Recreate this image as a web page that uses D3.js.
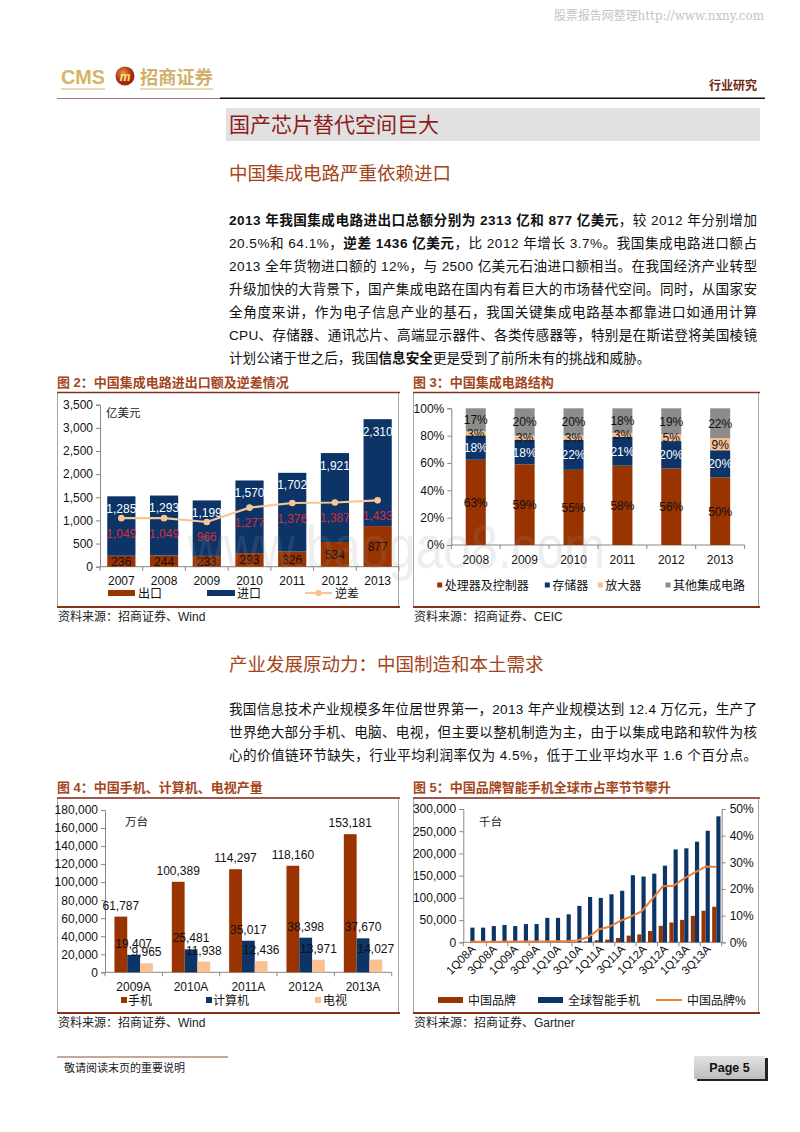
<!DOCTYPE html>
<html><head><meta charset="utf-8">
<script src="https://cdn.jsdelivr.net/npm/d3@7"></script>
<style>
body{margin:0;background:#fff;}
svg{display:block;font-family:"Liberation Sans","Noto Sans CJK SC",Arial,sans-serif;}
</style></head><body>
<svg id="page" width="800" height="1132"></svg>
<script>
// ---------- DATA ----------
const years2 = ["2007","2008","2009","2010","2011","2012","2013"];
const exports2 = [236,244,233,293,326,534,877];
const imports2 = [1285,1293,1199,1570,1702,1921,2310];
const deficit2 = [1049,1049,966,1277,1376,1387,1433];
const ticks2 = [0,500,1000,1500,2000,2500,3000,3500];
const legend2 = ["出口","进口","逆差"];

const years3 = ["2008","2009","2010","2011","2012","2013"];
const series3 = ["处理器及控制器","存储器","放大器","其他集成电路"];
const proc3 = [63,59,55,58,56,50];
const mem3 = [18,18,22,21,20,20];
const amp3 = [3,3,3,3,5,9];
const other3 = [17,20,20,18,19,22];
const ticks3 = [0,0.2,0.4,0.6,0.8,1.0];

const years4 = ["2009A","2010A","2011A","2012A","2013A"];
const series4 = ["手机","计算机","电视"];
const phones4 = [61787,100389,114297,118160,153181];
const pcs4 = [19407,25481,35017,38398,37670];
const tvs4 = [9965,11938,12436,13971,14027];
const ticks4 = [0,20000,40000,60000,80000,100000,120000,140000,160000,180000];

const quarters5 = ["1Q08A","2Q08A","3Q08A","4Q08A","1Q09A","2Q09A","3Q09A","4Q09A",
  "1Q10A","2Q10A","3Q10A","4Q10A","1Q11A","2Q11A","3Q11A","4Q11A",
  "1Q12A","2Q12A","3Q12A","4Q12A","1Q13A","2Q13A","3Q13A","4Q13A"];
const global5 = [33000,33000,36500,39000,36500,41000,41000,55000,55000,63000,82000,102000,
  100000,108000,116000,151000,148000,154500,172500,209000,211500,226500,251000,283500];
const china5 = [100,100,110,120,130,150,160,200,250,300,650,1900,
  4500,6000,9700,15000,17800,25500,37000,44500,50500,59500,71000,80000];
const share5 = [0.002,0.002,0.002,0.002,0.003,0.003,0.003,0.003,0.004,0.004,0.007,0.019,
  0.048,0.058,0.080,0.096,0.116,0.162,0.210,0.212,0.240,0.262,0.284,0.282];
const ticks5L = [0,50000,100000,150000,200000,250000,300000];
const ticks5R = [0,0.1,0.2,0.3,0.4,0.5];
const legend5 = ["中国品牌","全球智能手机","中国品牌%"];

// ---------- STYLE ----------
const C = {brown:"#993300", navy:"#0c3467", peach:"#fac090", gray:"#8c8c8c",
  line2:"#f8c597", red:"#d42e3c", orange:"#f07f36", axis:"#868686",
  title:"#a4461c", dark:"#8a2f1a"};

const svg = d3.select("#page");
svg.append("rect").attr("width",800).attr("height",1132).attr("fill","#fff");

// ---------- HEADER ----------
svg.append("text").attr("x",764).attr("y",20).attr("text-anchor","end")
  .attr("font-size",12).attr("fill","#c4c4c4").attr("font-family","'DejaVu Serif','Noto Sans CJK SC',serif")
  .attr("textLength",210).attr("lengthAdjust","spacingAndGlyphs")
  .text("股票报告网整理http://www.nxny.com");

svg.append("text").attr("x",61).attr("y",84).attr("font-size",21).attr("font-weight","bold")
  .attr("fill","#d6b468").attr("textLength",44).attr("lengthAdjust","spacingAndGlyphs").text("CMS");
const grad = svg.append("defs").append("radialGradient").attr("id","lg").attr("cx","40%").attr("cy","35%");
grad.append("stop").attr("offset","0%").attr("stop-color","#f0903a");
grad.append("stop").attr("offset","100%").attr("stop-color","#a0260c");
svg.append("circle").attr("cx",125).attr("cy",76).attr("r",9.5).attr("fill","url(#lg)");
svg.append("text").attr("x",125).attr("y",80.5).attr("text-anchor","middle").attr("font-size",12)
  .attr("font-weight","bold").attr("font-style","italic").attr("fill","#ffe08a").text("m");
svg.append("text").attr("x",140).attr("y",84).attr("font-size",18).attr("font-weight","bold")
  .attr("fill","#d2b06a").attr("textLength",73).attr("lengthAdjust","spacingAndGlyphs").text("招商证券");
svg.append("line").attr("x1",61).attr("x2",105).attr("y1",89).attr("y2",89).attr("stroke","#e2cc98").attr("stroke-width",1.5);
svg.append("line").attr("x1",140).attr("x2",213).attr("y1",89).attr("y2",89).attr("stroke","#e2cc98").attr("stroke-width",1.5);
svg.append("text").attr("x",757).attr("y",90).attr("text-anchor","end").attr("font-size",12)
  .attr("font-weight","bold").attr("fill","#6e2810").text("行业研究");
svg.append("line").attr("x1",57).attr("x2",221).attr("y1",98.5).attr("y2",98.5).attr("stroke","#a87868").attr("stroke-width",1);
svg.append("line").attr("x1",220).attr("x2",765).attr("y1",98.3).attr("y2",98.3).attr("stroke","#111").attr("stroke-width",1.6);

svg.append("rect").attr("x",226).attr("y",108).attr("width",534).attr("height",33).attr("fill","#e1e1e1");
svg.append("text").attr("x",229).attr("y",132).attr("font-size",21).attr("fill","#8e1a1a").text("国产芯片替代空间巨大");

svg.append("text").attr("x",229).attr("y",180).attr("font-size",18.5).attr("fill","#a3441a").text("中国集成电路严重依赖进口");

function para(lines, y0, justifyAll) {
  lines.forEach((segs,i)=>{
    const t = svg.append("text").attr("x",229).attr("y",y0+i*23).attr("font-size",13.6).attr("fill","#111");
    if (justifyAll || i < lines.length-1) t.attr("textLength",528).attr("lengthAdjust","spacing");
    segs.forEach(s=>{ t.append("tspan").attr("font-weight",s[1]?"bold":"normal").text(s[0]); });
  });
}
para([
 [["2013 年我国集成电路进出口总额分别为 2313 亿和 877 亿美元",1],["，较 2012 年分别增加",0]],
 [["20.5%和 64.1%，",0],["逆差 1436 亿美元",1],["，比 2012 年增长 3.7%。我国集成电路进口额占",0]],
 [["2013 全年货物进口额的 12%，与 2500 亿美元石油进口额相当。在我国经济产业转型",0]],
 [["升级加快的大背景下，国产集成电路在国内有着巨大的市场替代空间。同时，从国家安",0]],
 [["全角度来讲，作为电子信息产业的基石，我国关键集成电路基本都靠进口如通用计算",0]],
 [["CPU、存储器、通讯芯片、高端显示器件、各类传感器等，特别是在斯诺登将美国棱镜",0]],
 [["计划公诸于世之后，我国",0],["信息安全",1],["更是受到了前所未有的挑战和威胁。",0]]
], 225, false);

svg.append("text").attr("x",229).attr("y",671).attr("font-size",18.5).attr("fill","#a3441a").text("产业发展原动力：中国制造和本土需求");
para([
 [["我国信息技术产业规模多年位居世界第一，2013 年产业规模达到 12.4 万亿元，生产了",0]],
 [["世界绝大部分手机、电脑、电视，但主要以整机制造为主，由于以集成电路和软件为核",0]],
 [["心的价值链环节缺失，行业平均利润率仅为 4.5%，低于工业平均水平 1.6 个百分点。",0]]
], 714, true);

// ---------- FRAMES ----------
function frame(x0,x1,yTop,yBot,title,source){
  svg.append("text").attr("x",x0).attr("y",yTop-6).attr("font-size",13).attr("font-weight","bold")
    .attr("fill",C.title).text(title);
  svg.append("rect").attr("x",x0+0.5).attr("y",yTop).attr("width",x1-x0).attr("height",yBot-yTop)
    .attr("fill","none").attr("stroke","#a6a6a6").attr("stroke-width",1);
  svg.append("line").attr("x1",x0).attr("x2",x1+2).attr("y1",yTop).attr("y2",yTop).attr("stroke",C.dark).attr("stroke-width",1.5);
  svg.append("line").attr("x1",x0).attr("x2",x1+2).attr("y1",yBot).attr("y2",yBot).attr("stroke",C.dark).attr("stroke-width",2);
  svg.append("text").attr("x",x0+1).attr("y",yBot+14).attr("font-size",12).attr("fill","#222").text(source);
}
frame(57,398,392.5,607,"图 2：中国集成电路进出口额及逆差情况","资料来源：招商证券、Wind");
frame(413,758,392.5,607,"图 3：中国集成电路结构","资料来源：招商证券、CEIC");
frame(57,398,798,1013,"图 4：中国手机、计算机、电视产量","资料来源：招商证券、Wind");
frame(413,758,798,1013,"图 5：中国品牌智能手机全球市占率节节攀升","资料来源：招商证券、Gartner");

function styleAxis(g){
  g.selectAll(".domain").attr("stroke",C.axis);
  g.selectAll(".tick line").attr("stroke",C.axis);
  g.selectAll(".tick text").attr("fill","#111").attr("font-size",12)
    .attr("font-family","'Liberation Sans',Arial,sans-serif");
}
function catTicks(g,x0,step,n,y,len){
  for(let i=0;i<=n;i++) g.append("line").attr("x1",x0+i*step).attr("x2",x0+i*step)
    .attr("y1",y).attr("y2",y+len).attr("stroke",C.axis);
}

// ---------- CHART 2 ----------
{
  const g = svg.append("g");
  const x = d3.scaleBand().domain(years2).range([100,399]).paddingInner(0.34).paddingOuter(0.17);
  const y = d3.scaleLinear().domain([0,3500]).range([566.7,404.7]);
  const ax = g.append("g").attr("transform","translate(100,0)")
    .call(d3.axisLeft(y).tickValues(ticks2).tickFormat(d3.format(",")).tickSize(4).tickPadding(3));
  styleAxis(ax);
  g.append("line").attr("x1",100).attr("x2",399).attr("y1",y(0)).attr("y2",y(0)).attr("stroke",C.axis);
  catTicks(g,100,x.step(),years2.length,y(0),4);
  years2.forEach((yr,i)=>{
    g.append("rect").attr("x",x(yr)).attr("width",x.bandwidth()).attr("y",y(exports2[i]))
      .attr("height",y(0)-y(exports2[i])).attr("fill",C.brown);
    g.append("rect").attr("x",x(yr)).attr("width",x.bandwidth()).attr("y",y(exports2[i]+imports2[i]))
      .attr("height",y(exports2[i])-y(exports2[i]+imports2[i])).attr("fill",C.navy);
    g.append("text").attr("x",x(yr)+x.bandwidth()/2).attr("y",y(exports2[i]/2)+4.5).attr("text-anchor","middle")
      .attr("font-size",12).attr("fill","#111").text(d3.format(",")(exports2[i]));
    g.append("text").attr("x",x(yr)+x.bandwidth()/2).attr("y",y(exports2[i]+imports2[i])+16.5).attr("text-anchor","middle")
      .attr("font-size",12).attr("fill","#fff").text(d3.format(",")(imports2[i]));
    g.append("text").attr("x",x(yr)+x.bandwidth()/2).attr("y",584.5).attr("text-anchor","middle")
      .attr("font-size",12).attr("fill","#111").text(yr);
  });
  const line = d3.line().x((d,i)=>x(years2[i])+x.bandwidth()/2).y(d=>y(d));
  g.append("path").attr("d",line(deficit2)).attr("fill","none").attr("stroke",C.line2).attr("stroke-width",2.2);
  deficit2.forEach((d,i)=>{
    g.append("circle").attr("cx",x(years2[i])+x.bandwidth()/2).attr("cy",y(d)).attr("r",3.3).attr("fill",C.line2);
    g.append("text").attr("x",x(years2[i])+x.bandwidth()/2).attr("y",y(d)+19.5).attr("text-anchor","middle")
      .attr("font-size",12).attr("fill",C.red).text(d3.format(",")(d));
  });
  g.append("text").attr("x",106).attr("y",417).attr("font-size",11.5).attr("fill","#222").text("亿美元");
  // legend
  g.append("rect").attr("x",108).attr("y",590).attr("width",27).attr("height",6).attr("fill",C.brown);
  g.append("text").attr("x",138).attr("y",597.5).attr("font-size",12).attr("fill","#111").text(legend2[0]);
  g.append("rect").attr("x",207).attr("y",590).attr("width",28).attr("height",6).attr("fill",C.navy);
  g.append("text").attr("x",237).attr("y",597.5).attr("font-size",12).attr("fill","#111").text(legend2[1]);
  g.append("line").attr("x1",305).attr("x2",332).attr("y1",593).attr("y2",593).attr("stroke",C.line2).attr("stroke-width",2.2);
  g.append("circle").attr("cx",318.5).attr("cy",593).attr("r",3.3).attr("fill",C.line2);
  g.append("text").attr("x",335).attr("y",597.5).attr("font-size",12).attr("fill","#111").text(legend2[2]);
}

// ---------- CHART 3 ----------
{
  const g = svg.append("g");
  const x = d3.scaleBand().domain(years3).range([451.3,744.6]).paddingInner(0.59).paddingOuter(0.295);
  const y = d3.scaleLinear().domain([0,1]).range([545,408.3]);
  const ax = g.append("g").attr("transform","translate(451.3,0)")
    .call(d3.axisLeft(y).tickValues(ticks3).tickFormat(d3.format(".0%")).tickSize(4).tickPadding(3));
  styleAxis(ax);
  g.append("line").attr("x1",451.3).attr("x2",744.6).attr("y1",y(0)).attr("y2",y(0)).attr("stroke",C.axis);
  catTicks(g,451.3,x.step(),years3.length,y(0),4);
  const rows = years3.map((yr,i)=>({yr, a:proc3[i], b:mem3[i], c:amp3[i], d:other3[i]}));
  const keys = ["a","b","c","d"];
  const cols = [C.brown,C.navy,C.peach,C.gray];
  const txtCols = ["#111","#fff","#111","#111"];
  const stack = d3.stack().keys(keys).offset(d3.stackOffsetExpand)(rows);
  stack.forEach((s,k)=>{
    s.forEach((seg,i)=>{
      g.append("rect").attr("x",x(years3[i])).attr("width",x.bandwidth()).attr("y",y(seg[1]))
        .attr("height",y(seg[0])-y(seg[1])).attr("fill",cols[k]);
    });
  });
  stack.forEach((s,k)=>{
    s.forEach((seg,i)=>{
      g.append("text").attr("x",x(years3[i])+x.bandwidth()/2).attr("y",y((seg[0]+seg[1])/2)+4.5)
        .attr("text-anchor","middle").attr("font-size",12).attr("fill",txtCols[k]).text(rows[i][keys[k]]+"%");
    });
  });
  years3.forEach(yr=>g.append("text").attr("x",x(yr)+x.bandwidth()/2).attr("y",563.5).attr("text-anchor","middle")
    .attr("font-size",12).attr("fill","#111").text(yr));
  const lx = [439.7,547.3,600.3,668];
  series3.forEach((s,k)=>{
    g.append("rect").attr("x",lx[k]-2.5).attr("y",582.5).attr("width",5).attr("height",5).attr("fill",cols[k]);
    g.append("text").attr("x",lx[k]+5).attr("y",589.5).attr("font-size",12).attr("fill","#111").text(s);
  });
}

// ---------- CHART 4 ----------
{
  const g = svg.append("g");
  const x0 = d3.scaleBand().domain(years4).range([105,391.7]).paddingInner(0.33).paddingOuter(0.165);
  const x1 = d3.scaleBand().domain(series4).range([0,x0.bandwidth()]);
  const y = d3.scaleLinear().domain([0,180000]).range([972.3,810]);
  const ax = g.append("g").attr("transform","translate(105,0)")
    .call(d3.axisLeft(y).tickValues(ticks4).tickFormat(d3.format(",")).tickSize(4).tickPadding(3));
  styleAxis(ax);
  g.append("line").attr("x1",105).attr("x2",391.7).attr("y1",y(0)).attr("y2",y(0)).attr("stroke",C.axis);
  catTicks(g,105,x0.step(),years4.length,y(0),4);
  const vals = [phones4,pcs4,tvs4];
  const cols = [C.brown,C.navy,C.peach];
  years4.forEach((yr,i)=>{
    series4.forEach((s,k)=>{
      const v = vals[k][i];
      const bx = x0(yr)+x1(s);
      g.append("rect").attr("x",bx).attr("width",x1.bandwidth()).attr("y",y(v)).attr("height",y(0)-y(v)).attr("fill",cols[k]);
    });
  });
  years4.forEach((yr,i)=>{
    series4.forEach((s,k)=>{
      const v = vals[k][i];
      const bx = x0(yr)+x1(s)+x1.bandwidth()/2;
      g.append("text").attr("x",bx).attr("y",y(v)-7).attr("text-anchor","middle").attr("font-size",12)
        .attr("fill","#111").text(d3.format(",")(v));
    });
    g.append("text").attr("x",x0(yr)+x0.bandwidth()/2).attr("y",991).attr("text-anchor","middle")
      .attr("font-size",12).attr("fill","#111").text(yr);
  });
  g.append("text").attr("x",125).attr("y",826).attr("font-size",11.5).attr("fill","#222").text("万台");
  const lx = [124,209,318];
  series4.forEach((s,k)=>{
    g.append("rect").attr("x",lx[k]-3).attr("y",997).attr("width",6).attr("height",6).attr("fill",cols[k]);
    g.append("text").attr("x",lx[k]+ (k==2?5:4)).attr("y",1004.5).attr("font-size",12).attr("fill","#111").text(s);
  });
}

// ---------- CHART 5 ----------
{
  const g = svg.append("g");
  const x0 = d3.scaleBand().domain(quarters5).range([465,721.7]).paddingInner(0.22).paddingOuter(0.11);
  const x1 = d3.scaleBand().domain(["c","g"]).range([0,x0.bandwidth()]);
  const yL = d3.scaleLinear().domain([0,300000]).range([942.3,809]);
  const yR = d3.scaleLinear().domain([0,0.5]).range([942.3,809]);
  const axL = g.append("g").attr("transform","translate(463.3,0)")
    .call(d3.axisLeft(yL).tickValues(ticks5L).tickFormat(d3.format(",")).tickSize(4).tickPadding(3));
  styleAxis(axL);
  const axR = g.append("g").attr("transform","translate(721.7,0)")
    .call(d3.axisRight(yR).tickValues(ticks5R).tickFormat(d3.format(".0%")).tickSize(4).tickPadding(4));
  styleAxis(axR);
  g.append("line").attr("x1",463.3).attr("x2",721.7).attr("y1",yL(0)).attr("y2",yL(0)).attr("stroke",C.axis);
  quarters5.forEach((q,i)=>{
    g.append("rect").attr("x",x0(q)+x1("c")).attr("width",x1.bandwidth()).attr("y",yL(china5[i]))
      .attr("height",yL(0)-yL(china5[i])).attr("fill",C.brown);
    g.append("rect").attr("x",x0(q)+x1("g")).attr("width",x1.bandwidth()).attr("y",yL(global5[i]))
      .attr("height",yL(0)-yL(global5[i])).attr("fill",C.navy);
  });
  for(let i=0;i<=quarters5.length;i+=2){
    const xx = 465 + i*x0.step() - (i===0?1.7:0);
    g.append("line").attr("x1",xx).attr("x2",xx).attr("y1",yL(0)).attr("y2",yL(0)+4).attr("stroke",C.axis);
  }
  const line = d3.line().x((d,i)=>x0(quarters5[i])+x0.bandwidth()/2).y(d=>yR(d));
  g.append("path").attr("d",line(share5)).attr("fill","none").attr("stroke",C.orange).attr("stroke-width",2);
  quarters5.forEach((q,i)=>{
    if(i%2) return;
    const cx = x0(q)+x0.bandwidth()/2+3, cy = 947;
    g.append("text").attr("transform",`translate(${cx},${cy}) rotate(-45)`).attr("text-anchor","end")
      .attr("dy","0.35em").attr("font-size",11.5).attr("fill","#111").text(q);
  });
  g.append("text").attr("x",479).attr("y",826).attr("font-size",11.5).attr("fill","#222").text("千台");
  g.append("rect").attr("x",438).attr("y",997).attr("width",25).attr("height",6).attr("fill",C.brown);
  g.append("text").attr("x",468).attr("y",1004.5).attr("font-size",12).attr("fill","#111").text(legend5[0]);
  g.append("rect").attr("x",538).attr("y",997).attr("width",25).attr("height",6).attr("fill",C.navy);
  g.append("text").attr("x",568).attr("y",1004.5).attr("font-size",12).attr("fill","#111").text(legend5[1]);
  g.append("line").attr("x1",656).attr("x2",682).attr("y1",1000).attr("y2",1000).attr("stroke",C.orange).attr("stroke-width",2);
  g.append("text").attr("x",687).attr("y",1004.5).attr("font-size",12).attr("fill","#111").text(legend5[2]);
}

// ---------- WATERMARK ----------
svg.append("text").attr("x",188).attr("y",568).attr("font-size",62).attr("fill","#9a9a9a").attr("opacity",0.16)
  .attr("textLength",417).attr("lengthAdjust","spacingAndGlyphs").text("www.baogao8.com");

// ---------- FOOTER ----------
svg.append("line").attr("x1",57).attr("x2",228).attr("y1",1057).attr("y2",1057).attr("stroke","#c9a69a").attr("stroke-width",2);
svg.append("text").attr("x",64).attr("y",1072).attr("font-size",11).attr("fill","#222").text("敬请阅读末页的重要说明");
svg.append("rect").attr("x",697).attr("y",1058).attr("width",71).attr("height",23).attr("fill","#222");
const pg = svg.select("defs").append("linearGradient").attr("id","pg").attr("x1",0).attr("y1",0).attr("x2",0).attr("y2",1);
pg.append("stop").attr("offset","0%").attr("stop-color","#e2e2e2");
pg.append("stop").attr("offset","100%").attr("stop-color","#bdbdbd");
svg.append("rect").attr("x",694).attr("y",1056).attr("width",71).attr("height",23).attr("fill","url(#pg)");
svg.append("text").attr("x",729.5).attr("y",1072).attr("text-anchor","middle").attr("font-size",12.5)
  .attr("font-weight","bold").attr("fill","#111").text("Page 5");
</script>
</body></html>
